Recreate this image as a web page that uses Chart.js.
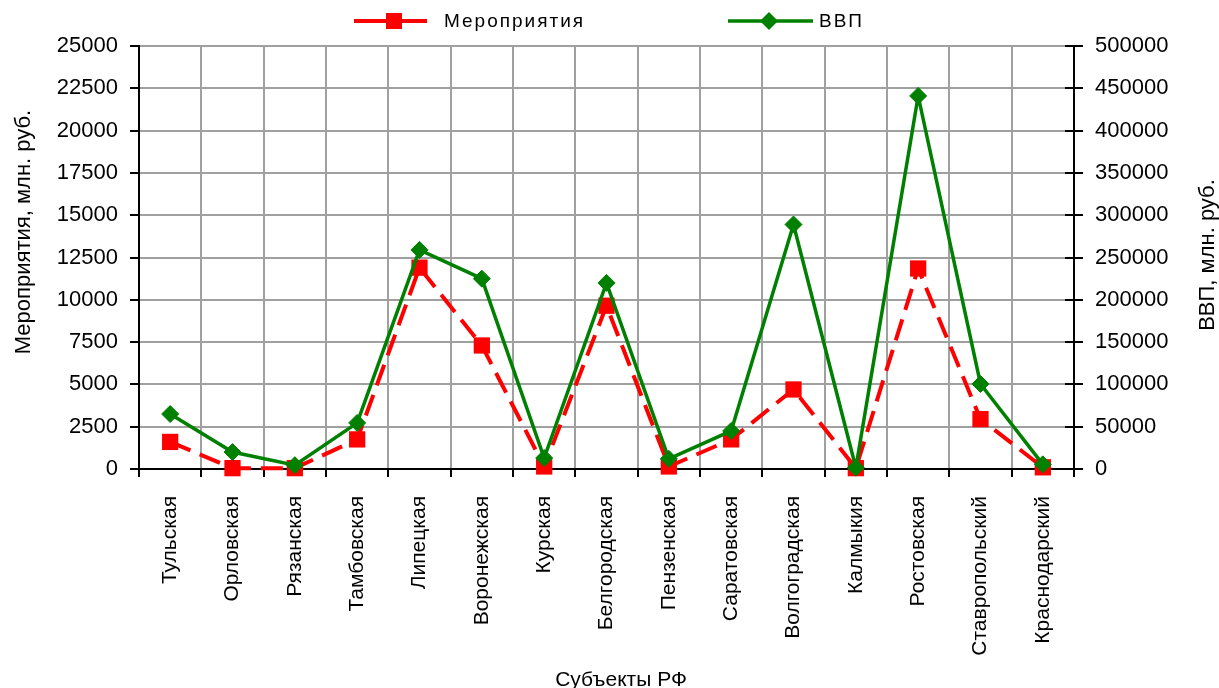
<!DOCTYPE html>
<html><head><meta charset="utf-8">
<script src="https://cdn.jsdelivr.net/npm/chart.js@4/dist/chart.umd.min.js"></script>
<style>html,body{margin:0;padding:0;background:#fff}#wrap{width:1219px;height:688px;position:relative}</style>
</head><body><div id="wrap"><canvas id="c"></canvas></div>
<script>
const categories = ['Тульская','Орловская','Рязанская','Тамбовская','Липецкая','Воронежская','Курская','Белгородская','Пензенская','Саратовская','Волгоградская','Калмыкия','Ростовская','Ставропольский','Краснодарский'];
const eventsValues = [1600, 50, 50, 1750, 11900, 7300, 150, 9650, 150, 1750, 4700, 50, 11850, 2950, 100];
const gdpValues = [65000, 20000, 4500, 54500, 259000, 225000, 13000, 220000, 12000, 45000, 289000, 1500, 441000, 100500, 5500];
const seriesNames = ['Мероприятия', 'ВВП'];
const leftAxisRange = [0, 25000];
const leftAxisStep = 2500;
const rightAxisRange = [0, 500000];
const rightAxisStep = 50000;
const leftTitle = 'Мероприятия, млн. руб.';
const rightTitle = 'ВВП, млн. руб.';
const xTitle = 'Субъекты РФ';

const FONT = '"Liberation Sans", Arial, sans-serif';
const GRID = '#a0a0a0';

const decor = {
  id: 'decor',
  afterDraw(chart) {
    const ctx = chart.ctx, area = chart.chartArea, y1 = chart.scales.y1;
    ctx.save();
    ctx.strokeStyle = '#000'; ctx.lineWidth = 2;
    y1.ticks.forEach(t => {
      const py = Math.round(y1.getPixelForValue(t.value));
      ctx.beginPath(); ctx.moveTo(area.right - 9, py); ctx.lineTo(area.right, py); ctx.stroke();
    });
    ctx.fillStyle = '#000';
    ctx.font = '22px ' + FONT;
    ctx.textAlign = 'center'; ctx.textBaseline = 'middle';
    ctx.save(); ctx.translate(24, 232); ctx.rotate(-Math.PI / 2); ctx.fillText(leftTitle, 0, 0); ctx.restore();
    ctx.save(); ctx.translate(1208, 255); ctx.rotate(-Math.PI / 2); ctx.fillText(rightTitle, 0, 0); ctx.restore();
    ctx.font = '21px ' + FONT;
    ctx.textBaseline = 'alphabetic';
    ctx.fillText(xTitle, 621, 686);

    // legend
    const ly = 21;
    const items = [
      {ds: chart.data.datasets[0], x0: 354, x1: 427, mx: 394, tx: 444},
      {ds: chart.data.datasets[1], x0: 728, x1: 813, mx: 769, tx: 819}
    ];
    items.forEach((it, i) => {
      const ds = it.ds;
      ctx.strokeStyle = ds.borderColor; ctx.fillStyle = ds.borderColor;
      ctx.lineWidth = i === 0 ? 4 : 3.5;
      ctx.setLineDash([]);
      ctx.beginPath(); ctx.moveTo(it.x0, ly); ctx.lineTo(it.x1, ly); ctx.stroke();
      ctx.beginPath();
      if (i === 0) {
        ctx.rect(it.mx - 8, ly - 8, 16, 16);
      } else {
        ctx.moveTo(it.mx - 9, ly); ctx.lineTo(it.mx, ly - 9); ctx.lineTo(it.mx + 9, ly); ctx.lineTo(it.mx, ly + 9); ctx.closePath();
      }
      ctx.fill();
      ctx.fillStyle = '#000';
      ctx.textAlign = 'left';
      ctx.textBaseline = 'middle';
      ctx.font = '19px ' + FONT;
      if ('letterSpacing' in ctx) ctx.letterSpacing = '2px';
      ctx.fillText(ds.label, it.tx, ly + 1);
      if ('letterSpacing' in ctx) ctx.letterSpacing = '0px';
    });
    ctx.restore();
  }
};

new Chart(document.getElementById('c'), {
  type: 'line',
  data: {
    labels: categories,
    datasets: [
      {
        label: seriesNames[0], data: eventsValues, yAxisID: 'y',
        borderColor: '#ff0000', backgroundColor: '#ff0000',
        borderWidth: 4, borderDash: [22, 10],
        pointStyle: 'rect', pointRadius: 11.5, pointBorderWidth: 0,
        pointBackgroundColor: '#ff0000', tension: 0, clip: false, order: 1
      },
      {
        label: seriesNames[1], data: gdpValues, yAxisID: 'y1',
        borderColor: '#008000', backgroundColor: '#008000',
        borderWidth: 3.5,
        pointStyle: 'rectRot', pointRadius: 8.5, pointBorderWidth: 1,
        pointBackgroundColor: '#008000', tension: 0, clip: false, order: 0
      }
    ]
  },
  options: {
    responsive: true, maintainAspectRatio: false, animation: false, devicePixelRatio: 1,
    layout: { padding: { top: 46, left: 0, right: 0, bottom: 0 } },
    plugins: { legend: { display: false }, tooltip: { enabled: false } },
    scales: {
      x: {
        type: 'category', offset: true,
        grid: { offset: true, color: GRID, lineWidth: 2, tickColor: '#000', tickLength: 8, drawTicks: true },
        border: { color: '#000', width: 2 },
        ticks: { autoSkip: false, maxRotation: 90, minRotation: 90, padding: 19, color: '#000', font: { family: FONT, size: 21 } },
        title: { display: false },
        afterFit: s => { s.height = 219; }
      },
      y: {
        position: 'left', min: leftAxisRange[0], max: leftAxisRange[1],
        ticks: { stepSize: leftAxisStep, callback: v => String(v), padding: 12, color: '#000', font: { family: FONT, size: 22 } },
        grid: { color: GRID, lineWidth: 2, tickColor: '#000', tickLength: 9 },
        border: { color: '#000', width: 2 },
        afterFit: s => { s.width = 139; }
      },
      y1: {
        position: 'right', min: rightAxisRange[0], max: rightAxisRange[1],
        ticks: { stepSize: rightAxisStep, callback: v => String(v), padding: 12, color: '#000', font: { family: FONT, size: 22 } },
        grid: { drawOnChartArea: false, tickColor: '#000', tickLength: 9, lineWidth: 2 },
        border: { color: '#000', width: 2 },
        afterFit: s => { s.width = 145; }
      }
    }
  },
  plugins: [decor]
});
</script></body></html>
